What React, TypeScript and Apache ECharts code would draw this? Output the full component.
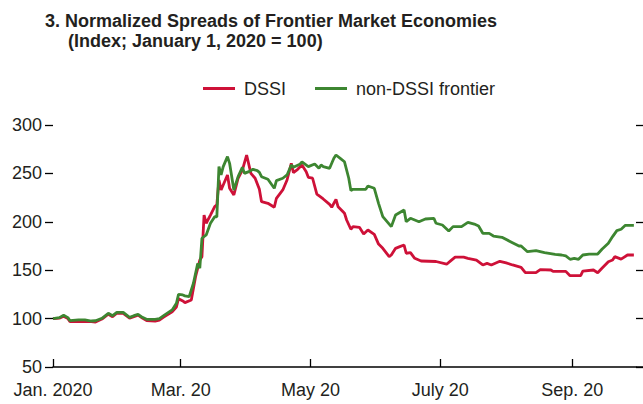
import React, { useEffect, useRef } from 'react';
import * as echarts from 'echarts';

// Days elapsed since January 1, 2020, and index values (January 1, 2020 = 100)
const dssiDays = [0, 3, 5, 7, 8, 12, 15, 18, 20, 23, 26, 28, 30, 33, 36, 38, 40, 42, 44, 48, 50, 52, 56, 58, 59, 61, 62, 65, 67, 69, 70, 71, 72, 74, 76, 77, 78, 79, 82, 83, 85, 87, 89, 91, 93, 95, 97, 98, 101, 104, 105, 108, 110, 112, 113, 115, 117, 119, 120, 122, 124, 127, 130, 131, 133, 134, 137, 138, 140, 141, 144, 146, 148, 151, 153, 155, 158, 159, 161, 163, 165, 166, 168, 170, 173, 180, 185, 187, 189, 193, 195, 199, 202, 204, 206, 210, 213, 216, 220, 222, 227, 229, 234, 235, 241, 243, 248, 249, 254, 256, 258, 261, 263, 264, 267, 270, 273];
const dssiValues = [100, 100.5, 102.5, 100, 96.8, 97, 97, 97, 96.5, 99.5, 104.5, 102, 105.5, 105.5, 100.5, 102, 103.5, 100.5, 98, 97.5, 98.5, 101.5, 107, 112, 120.6, 118.2, 116.5, 119.2, 143.3, 160.5, 164, 207, 198.5, 207, 215.6, 217.4, 243.2, 232.9, 248.4, 234.6, 227.7, 245, 253.5, 269, 250, 245, 233.5, 220.8, 219.1, 215, 224.3, 232.9, 243.2, 260.4, 250.8, 254.2, 258.7, 251.8, 246, 245, 228.7, 223.6, 218, 215, 223.2, 215.5, 208.8, 201.9, 192.3, 195, 194.3, 187.4, 191.5, 187, 177, 172.6, 164, 165.7, 172.6, 174.3, 176, 167.5, 168.1, 162.3, 159.5, 159, 156.2, 159.9, 163.5, 163.5, 162.3, 160.5, 155.4, 157, 155.4, 159.2, 157.5, 155.4, 153, 147.4, 147.4, 150.5, 150.2, 148.8, 148.8, 144.3, 144.3, 149, 150.2, 147.4, 152, 158.8, 160.5, 164, 161.5, 165.7, 165.7];

const nonDssiDays = [0, 3, 5, 7, 8, 12, 15, 18, 20, 23, 26, 28, 30, 33, 36, 38, 40, 42, 44, 48, 50, 52, 56, 58, 59, 61, 62, 64, 66, 68, 69, 70, 72, 74, 76, 77, 78, 79, 80, 82, 83, 85, 87, 89, 90, 92, 94, 96, 97, 98, 101, 104, 105, 108, 110, 112, 113, 116, 117, 120, 123, 125, 126, 127, 130, 132, 133, 135, 137, 139, 140, 141, 147, 148, 151, 153, 155, 159, 161, 165, 166, 168, 172, 175, 179, 180, 183, 186, 188, 192, 195, 198, 200, 202, 205, 207, 211, 215, 219, 220, 223, 227, 231, 236, 239, 241, 243, 245, 247, 249, 252, 256, 258, 261, 263, 265, 267, 269, 273];
const nonDssiValues = [100, 101, 103.4, 101, 97.8, 98.6, 98.6, 97.5, 97.8, 100.3, 105.5, 103, 106.5, 106.5, 101.3, 103, 104.4, 101.3, 99.3, 99.3, 100, 103, 109, 115.8, 125, 124.4, 123.5, 122.6, 136.5, 157, 152, 183, 186.4, 198.5, 205.3, 205, 257, 248.4, 257, 267.3, 260.4, 232.9, 246.6, 256.3, 250, 251.8, 254.2, 252.8, 251, 246.6, 243.9, 234.6, 242.5, 245, 248.4, 258.7, 256.3, 259.4, 262, 257, 259.7, 255.3, 258.7, 257, 255.3, 265.6, 269, 265.6, 262, 245, 232.2, 233.6, 233.6, 237, 234.6, 219.1, 205.3, 195, 207, 212.2, 200.1, 203.6, 200.1, 202.9, 203.6, 198.5, 196.7, 190.5, 195, 195, 199.5, 197.7, 195.7, 188.1, 188.1, 185.3, 184, 179.5, 175, 175, 169.1, 170.2, 168.1, 166.4, 165.7, 164.7, 161.3, 162.3, 161.3, 165.7, 166.7, 166.7, 171.6, 177.8, 184.7, 190.9, 192.3, 196.4, 196.4];

const seriesNames = ['DSSI', 'non-DSSI frontier'];
// Jan 1, Mar 1, May 1, Jul 1, Sep 1 (2020) as days since Jan 1
const tickDays = [0, 60, 121, 182, 244];
const tickLabels = ['Jan. 2020', 'Mar. 20', 'May 20', 'July 20', 'Sep. 20'];
const yMin = 50;
const yMax = 300;
const yStep = 50;
const lastDay = 274;

const titleLine1 = '3. Normalized Spreads of Frontier Market Economies';
const titleLine2 = '(Index; January 1, 2020 = 100)';

const RED = '#CE1138';
const GREEN = '#3D8631';
const INK = '#231F20';
const FONT = '"Liberation Sans", Arial, Helvetica, sans-serif';

export default function App() {
  const ref = useRef<HTMLDivElement>(null);

  useEffect(() => {
    if (!ref.current) return;
    const chart = echarts.init(ref.current, null, { renderer: 'svg' });

    chart.setOption({
      animation: false,
      backgroundColor: '#ffffff',
      textStyle: { fontFamily: FONT },
      grid: { left: 53, right: 7, top: 125, bottom: 37, containLabel: false },
      legend: {
        left: 203,
        top: 79.5,
        padding: 0,
        icon: 'rect',
        itemWidth: 32,
        itemHeight: 3,
        itemGap: 29,
        data: seriesNames,
        textStyle: { fontSize: 18, fontFamily: FONT, color: INK, padding: [0, 0, 0, 4] },
      },
      graphic: [
        {
          type: 'text',
          x: 45,
          y: 21,
          style: { text: titleLine1, font: `bold 18px ${FONT}`, fill: INK, align: 'left', verticalAlign: 'middle' },
        },
        {
          type: 'text',
          x: 68,
          y: 41,
          style: { text: titleLine2, font: `bold 18px ${FONT}`, fill: INK, align: 'left', verticalAlign: 'middle' },
        },
        {
          type: 'line',
          shape: { x1: 636, y1: 367, x2: 643, y2: 367 },
          style: { stroke: '#000', lineWidth: 1.5 },
        },
      ],
      xAxis: {
        type: 'value',
        min: 0,
        max: lastDay,
        axisLine: { show: true, lineStyle: { color: '#000', width: 1.5 } },
        axisTick: { show: true, inside: true, length: 8, lineStyle: { color: '#000', width: 1.3 }, customValues: tickDays },
        axisLabel: {
          customValues: tickDays,
          formatter: (v: number) => {
            const i = tickDays.indexOf(v);
            return i >= 0 ? tickLabels[i] : '';
          },
          fontSize: 18,
          fontFamily: FONT,
          color: INK,
          margin: 14,
          hideOverlap: false,
        },
        splitLine: { show: false },
      },
      yAxis: [
        {
          type: 'value',
          min: yMin,
          max: yMax,
          interval: yStep,
          axisLine: { show: false },
          axisTick: { show: true, length: 8, lineStyle: { color: '#000', width: 1.3 } },
          axisLabel: { fontSize: 18, fontFamily: FONT, color: INK, margin: 11 },
          splitLine: { show: false },
        },
        {
          type: 'value',
          position: 'right',
          min: yMin,
          max: yMax,
          interval: yStep,
          axisLine: { show: false },
          axisTick: { show: true, length: 7, lineStyle: { color: '#000', width: 1.3 } },
          axisLabel: { show: false },
          splitLine: { show: false },
        },
      ],
      series: [
        {
          name: seriesNames[0],
          type: 'line',
          data: dssiDays.map((d, i) => [d, dssiValues[i]]),
          showSymbol: false,
          symbol: 'none',
          lineStyle: { width: 2.8, color: RED },
          itemStyle: { color: RED },
          z: 2,
        },
        {
          name: seriesNames[1],
          type: 'line',
          data: nonDssiDays.map((d, i) => [d, nonDssiValues[i]]),
          showSymbol: false,
          symbol: 'none',
          lineStyle: { width: 2.8, color: GREEN },
          itemStyle: { color: GREEN },
          z: 3,
        },
      ],
    });

    return () => chart.dispose();
  }, []);

  return <div ref={ref} style={{ position: 'fixed', left: 0, top: 0, width: 643, height: 404 }} />;
}
